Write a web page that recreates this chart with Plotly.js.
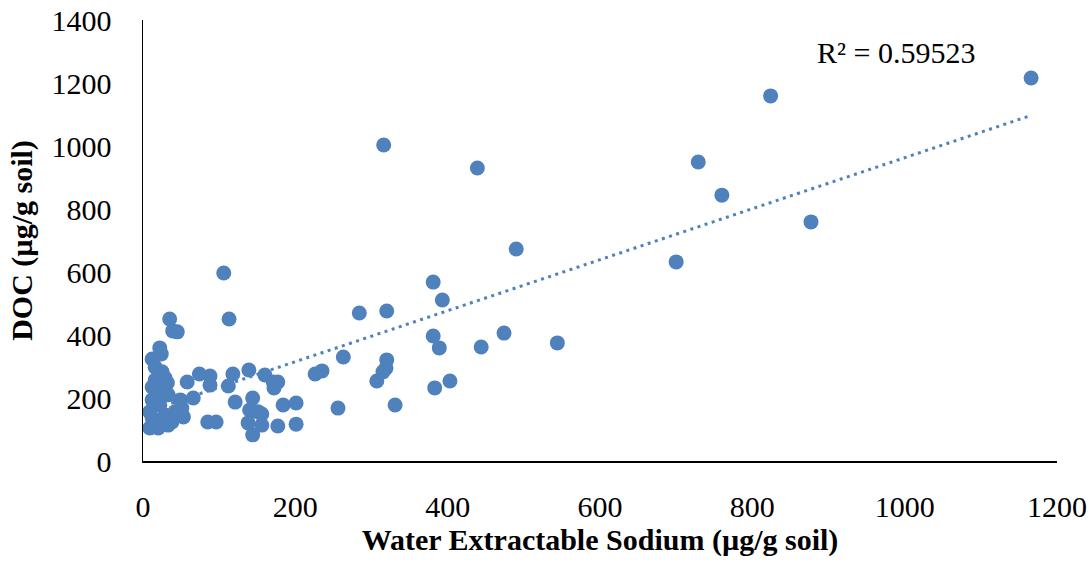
<!DOCTYPE html>
<html>
<head>
<meta charset="utf-8">
<script src="https://cdn.plot.ly/plotly-3.0.1.min.js"></script>
<style>html,body{margin:0;padding:0;background:#fff;}#chart{width:1089px;height:569px;}</style>
</head>
<body>
<div id="chart"></div>
<script>
// Water extractable sodium (µg/g soil)
const sodium = [
  35, 39, 45, 22, 24, 12, 16, 25, 29, 12, 29, 32, 58, 74, 12, 22, 9, 12, 29, 33,
  9, 20, 49, 66, 51, 53, 25, 12, 33, 20, 42, 38, 16,
  88, 88, 112, 118, 139, 160, 171, 177, 172, 121, 144, 140, 151, 156, 184, 201, 85,
  96, 138, 156, 177, 201, 144, 106, 113,
  226, 235, 256, 263, 284, 320, 320, 319, 315, 307, 331, 381, 393, 381, 389, 383,
  403, 444, 474, 544, 490, 439, 316, 700, 729, 760, 824, 877, 1166
];
// DOC (µg/g soil)
const doc = [
  451, 413, 410, 359, 340, 324, 298, 283, 263, 235, 235, 248, 251, 276, 194, 178, 156, 137, 146, 114,
  105, 105, 194, 200, 168, 140, 130, 108, 210, 210, 156, 124, 257,
  270, 241, 238, 276, 289, 273, 251, 251, 232, 187, 200, 162, 156, 149, 178, 184, 124,
  124, 121, 114, 111, 117, 83, 597, 451,
  276, 286, 168, 330, 470, 476, 321, 295, 283, 254, 178, 568, 511, 397, 359, 232,
  254, 362, 406, 375, 673, 930, 1003, 632, 949, 844, 1159, 759, 1216
];
const r2Label = "R² = 0.59523";
const xTicks = [0, 200, 400, 600, 800, 1000, 1200];
const yTicks = [0, 200, 400, 600, 800, 1000, 1200, 1400];

// least-squares linear trendline computed from the data
const n = sodium.length;
const mx = sodium.reduce((a, b) => a + b, 0) / n;
const my = doc.reduce((a, b) => a + b, 0) / n;
let sxy = 0, sxx = 0;
for (let i = 0; i < n; i++) { sxy += (sodium[i] - mx) * (doc[i] - my); sxx += (sodium[i] - mx) ** 2; }
const slope = sxy / sxx;
const intercept = my - slope * mx;
const xMin = Math.min(...sodium), xMax = Math.max(...sodium);
const trendX = [xMin, xMax];
const trendY = trendX.map(v => intercept + slope * v);

const blue = '#4F81BD';
const serif = '"Liberation Serif", "Times New Roman", serif';
const fs = 30;

const traces = [
  {
    x: trendX, y: trendY, type: 'scatter', mode: 'lines',
    line: { color: blue, width: 3, dash: '3px,4.5px' },
    hoverinfo: 'skip', showlegend: false
  },
  {
    x: sodium, y: doc, type: 'scatter', mode: 'markers',
    marker: { color: blue, size: 15, line: { width: 0 } },
    showlegend: false
  }
];

const layout = {
  width: 1089, height: 569,
  margin: { l: 143, r: 32, t: 20, b: 108 },
  paper_bgcolor: '#fff', plot_bgcolor: '#fff',
  font: { family: serif, size: fs, color: '#000' },
  xaxis: {
    range: [0, 1200], tickvals: xTicks, ticktext: xTicks.map(String),
    showgrid: false, zeroline: false, showline: true, linecolor: '#000', linewidth: 1.5,
    ticks: '', ticklabelstandoff: 18,
    tickfont: { family: serif, size: fs, color: '#000' },
    title: { text: '<b>Water Extractable Sodium (µg/g soil)</b>', font: { family: serif, size: fs, color: '#000' }, standoff: 6 }
  },
  yaxis: {
    range: [0, 1400], tickvals: yTicks, ticktext: yTicks.map(String),
    showgrid: false, zeroline: false, showline: true, linecolor: '#000', linewidth: 1.5,
    ticks: '', ticklabelstandoff: 24,
    tickfont: { family: serif, size: fs, color: '#000' },
    title: { text: '<b>DOC (µg/g soil)</b>', font: { family: serif, size: fs, color: '#000' }, standoff: 10 }
  },
  annotations: [
    { text: r2Label, xref: 'paper', yref: 'paper', x: 0.824, y: 0.927, xanchor: 'center', yanchor: 'middle',
      showarrow: false, font: { family: serif, size: fs, color: '#000' } }
  ]
};

Plotly.newPlot('chart', traces, layout, { displayModeBar: false, staticPlot: true });
</script>
</body>
</html>
